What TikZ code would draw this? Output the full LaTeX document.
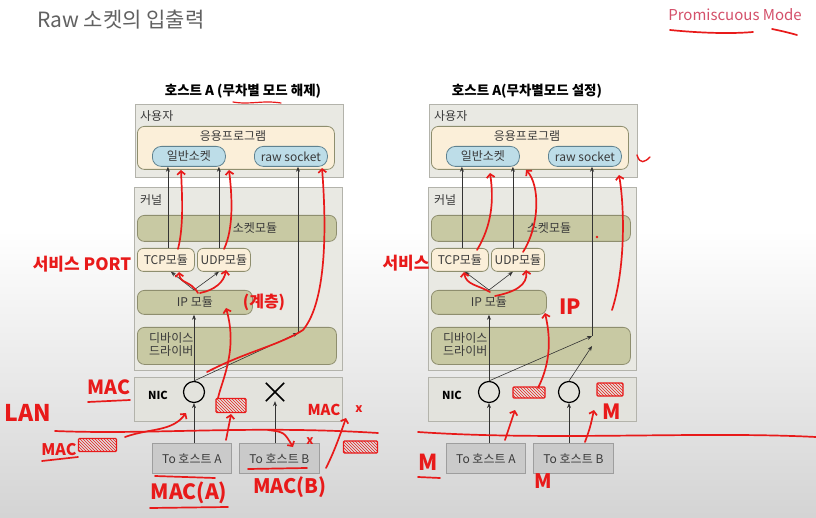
\documentclass[tikz,border=0pt]{standalone}
\usepackage{fontspec}
\setmainfont{Noto Sans CJK KR}
\usetikzlibrary{arrows.meta,patterns}
\definecolor{usergray}{HTML}{E9E9E3}
\definecolor{userborder}{HTML}{B3B3AB}
\definecolor{cream}{HTML}{FBEFD9}
\definecolor{olivedark}{HTML}{8E8E6E}
\definecolor{olivefill}{HTML}{C8C9A3}
\definecolor{pillblue}{HTML}{BDDDE8}
\definecolor{pillborder}{HTML}{5F8290}
\definecolor{nicgray}{HTML}{E3E3DD}
\definecolor{togray}{HTML}{CACACA}
\definecolor{toborder}{HTML}{9E9E9E}
\definecolor{txt}{HTML}{3A3A3A}
\definecolor{penred}{HTML}{E81A1A}
\definecolor{promred}{HTML}{D4506A}
\tikzset{
  base/.style={draw, line width=0.8pt, inner sep=0pt, anchor=north west, text=txt, font=\fontsize{12}{14}\selectfont},
  userbox/.style={base, fill=usergray, draw=userborder},
  appbox/.style={base, fill=cream, draw=olivedark, rounded corners=7pt},
  pill/.style={base, fill=pillblue, draw=pillborder, rounded corners=9pt},
  modbox/.style={base, fill=olivefill, draw=olivedark, rounded corners=7pt},
  cmod/.style={base, fill=cream, draw=olivedark, rounded corners=6pt},
  nicbox/.style={base, fill=nicgray, draw=userborder},
  tobox/.style={base, fill=togray, draw=toborder},
  lbl/.style={text=txt, inner sep=0pt, font=\fontsize{12}{14}\selectfont},
  ttl/.style={text=black, inner sep=0pt, font=\bfseries\fontsize{13.5}{15}\selectfont},
  arr/.style={-{Stealth[length=5pt,width=4pt]}, line width=0.6pt, draw=black!80},
  redpen/.style={draw=penred, line width=1.7pt, line cap=round, line join=round},
  redarr/.style={redpen, -{Straight Barb[length=3.5pt,width=8pt]}},
  hand/.style={text=penred, inner sep=0pt, font=\bfseries\fontsize{17}{17}\selectfont},
  hatch/.style={draw=penred, line width=1.4pt, pattern=north west lines, pattern color=penred, inner sep=0pt, rounded corners=1pt},
}
\newcommand\hostdiag[2]{%
\begin{scope}[xshift=#1pt]
\node[userbox, minimum width=208, minimum height=73] (user#2) at (135,104) {};
\node[lbl, anchor=west] (userlbl#2) at (140,116) {사용자};
\node[appbox, minimum width=197, minimum height=43] (app#2) at (137,126) {};
\node[lbl] (applbl#2) at (233,136.5) {응용프로그램};
\node[pill, minimum width=73, minimum height=20] (gen#2) at (152,146) {일반소켓};
\node[pill, minimum width=73, minimum height=20] (raw#2) at (254,146) {raw socket};
\node[userbox, minimum width=208, minimum height=183] (kern#2) at (134,187) {};
\node[lbl, anchor=west] (kernlbl#2) at (140,200) {커널};
\node[modbox, minimum width=199, minimum height=26] (sock#2) at (137,215) {};
\node[lbl] (socklbl#2) at (255,228) {소켓모듈};
\node[cmod, minimum width=57, minimum height=23] (tcp#2) at (137,248) {TCP모듈};
\node[cmod, minimum width=53, minimum height=23] (udp#2) at (197,248) {UDP모듈};
\node[modbox, minimum width=115, minimum height=24] (ip#2) at (137,290) {IP 모듈};
\node[modbox, minimum width=199, minimum height=37] (drv#2) at (137,327) {};
\node[lbl, anchor=west, align=left, font=\fontsize{12}{13}\selectfont] (drvlbl#2) at (149,344.5) {디바이스\\드라이버};
\node[nicbox, minimum width=208, minimum height=44] (nic#2) at (134,377) {};
\node[lbl, font=\bfseries\fontsize{11}{12}\selectfont, text=black] (niclbl#2) at (158,395) {NIC};
\node[tobox, minimum width=79, minimum height=30] (toa#2) at (152,443) {To 호스트 A};
\node[tobox, minimum width=80, minimum height=30] (tob#2) at (239,443) {To 호스트 B};
\end{scope}}
\begin{document}
\begin{tikzpicture}[x=1pt,y=-1pt]
\useasboundingbox (0,0) rectangle (816,518);
\fill[white] (0,0) rectangle (816,518);
\shade[top color=white, bottom color=black!17] (0,230) rectangle (816,518);
% headings
\node[anchor=west, text=black!62, inner sep=0pt, font=\fontsize{21}{23}\selectfont] (head) at (37,20) {Raw 소켓의 입출력};
\node[text=promred, inner sep=0pt, font=\fontsize{15}{17}\selectfont] (prom) at (735,15) {Promiscuous Mode};
\draw[redpen] (670,30) .. controls (700,33) and (730,34) .. (753,32);
\draw[redpen] (772,29) .. controls (782,31) and (790,33) .. (797,35);
% diagrams
\hostdiag{0}{L}
\hostdiag{294}{R}
\node[ttl] (titleL) at (243,91) {호스트 A (무차별 모드 해제)};
\node[ttl] (titleR) at (527,91) {호스트 A(무차별모드 설정)};
% ---- left connectors
\node[circle, draw, line width=1.2pt, minimum size=21pt, inner sep=0pt] (c1L) at (194,392) {};
\node[minimum size=18pt, inner sep=0pt] (xL) at (275,392) {};
\draw[line width=1.5pt] (xL.north west) -- (xL.south east) (xL.north east) -- (xL.south west);
\draw[arr] (c1L.south |- toaL.north) -- (c1L.south);
\draw[arr] (xL.south |- tobL.north) -- (xL.south);
\draw[arr] (c1L.north) -- (c1L.north |- ipL.south);
\coordinate (dL) at (298,333);
\draw[arr] (c1L.north) -- (dL);
\draw[arr] (dL) -- (dL |- rawL.south);
\draw[arr] (c1L.north |- ipL.north) -- ([xshift=5pt]tcpL.south);
\draw[arr] (c1L.north |- ipL.north) -- ([xshift=-5pt]udpL.south);
\draw[arr] ([xshift=2pt]tcpL.north) -- ([xshift=2pt]tcpL.north |- genL.south);
\draw[arr] ([xshift=-5pt]udpL.north) -- ([xshift=-5pt]udpL.north |- genL.south);
% ---- right connectors
\node[circle, draw, line width=1.2pt, minimum size=21pt, inner sep=0pt] (c1R) at (489,392) {};
\node[circle, draw, line width=1.2pt, minimum size=21pt, inner sep=0pt] (c2R) at (569,392) {};
\draw[arr] (c1R.south |- toaR.north) -- (c1R.south);
\draw[arr] (c2R.south |- tobR.north) -- (c2R.south);
\draw[arr] (c1R.north) -- (c1R.north |- ipR.south);
\coordinate (dR1) at (592,336);
\coordinate (dR2) at (592,346);
\draw[arr] (c1R.north) -- (dR1);
\draw[arr] (c2R.north) -- (dR2);
\draw[arr] (dR1) -- (dR1 |- rawR.south);
\draw[arr] (c1R.north |- ipR.north) -- ([xshift=5pt]tcpR.south);
\draw[arr] (c1R.north |- ipR.north) -- ([xshift=-5pt]udpR.south);
\draw[arr] ([xshift=2pt]tcpR.north) -- ([xshift=2pt]tcpR.north |- genR.south);
\draw[arr] ([xshift=-5pt]udpR.north) -- ([xshift=-5pt]udpR.north |- genR.south);
% ---- red annotations, left
\draw[redpen, line width=1.2pt] (233,102) .. controls (250,105) and (262,100) .. (281,103);
\draw[redarr] (178,249) .. controls (184,225) and (182,195) .. (181,170);
\draw[redarr] (224,249) .. controls (234,228) and (232,195) .. (229,170);
\draw[redarr] (218,398) .. controls (222,380) and (238,350) .. (226,308);
\draw[redarr] (207,372) .. controls (245,352) and (280,345) .. (303,330) .. controls (328,300) and (326,220) .. (322,168);
\draw[redarr] (198,293) .. controls (190,280) and (180,284) .. (179,272);
\draw[redarr] (200,293) .. controls (215,290) and (224,282) .. (226,270);
\node[hand] (svcL) at (82,264) {서비스 PORT};
\node[hand, font=\bfseries\fontsize{16}{16}\selectfont] (layerL) at (264,302) {(계층)};
\node[hand, font=\bfseries\fontsize{19.5}{19.5}\selectfont] (macnic) at (109,387) {MAC};
\draw[redpen] (88,402) -- (130,400);
\node[hand, font=\bfseries\fontsize{23}{23}\selectfont] (lan) at (28,413) {LAN};
\draw[redpen] (55,431) .. controls (150,435) and (250,425) .. (378,433);
\node[hand, font=\bfseries\fontsize{16}{16}\selectfont] (macl) at (59,450) {MAC};
\draw[redpen] (42,461) -- (78,457);
\node[hatch, minimum width=38, minimum height=13] (hb1) at (97.5,445) {};
\node[hatch, minimum width=30, minimum height=14] (hb2) at (231,405.5) {};
\node[hatch, minimum width=34, minimum height=12] (hb3) at (360.5,447) {};
\draw[redarr] (125,437) .. controls (150,428) and (172,432) .. (186,413);
\draw[redarr] (226,440) .. controls (229,428) .. (231,414);
\draw[redarr] (268,430) .. controls (284,432) .. (293,447);
\node[hand, font=\bfseries\fontsize{12}{12}\selectfont] (xb) at (310,441) {x};
\node[hand, font=\bfseries\fontsize{15}{15}\selectfont] (macr) at (324,410) {MAC};
\draw[redarr] (326,468) .. controls (335,450) and (340,435) .. (346,418);
\node[hand, font=\bfseries\fontsize{12}{12}\selectfont] (xr) at (359,409) {x};
\draw[redpen] (155,476) -- (215,478);
\node[hand, font=\bfseries\fontsize{21}{21}\selectfont] (maca) at (189,493) {MAC(A)};
\draw[redpen] (150,508) -- (228,507);
\draw[redpen] (248,469) -- (307,468);
\node[hand, font=\bfseries\fontsize{20}{20}\selectfont] (macb) at (290,487) {MAC(B)};
% ---- red annotations, right
\draw[redarr] (477,250) .. controls (492,225) and (494,200) .. (490,173);
\draw[redarr] (523,252) .. controls (540,225) and (540,185) .. (526,170);
\draw[redarr] (490,292) .. controls (478,285) and (466,285) .. (464,272);
\draw[redarr] (495,296) .. controls (515,292) and (528,285) .. (526,270);
\draw[redarr] (612,310) .. controls (625,270) and (625,210) .. (619,175);
\draw[redpen, line width=1.4pt] (637,155) .. controls (640,165) and (645,162) .. (650,157);
\fill[penred] (597,237) circle (1.3);
\draw[redarr] (538,388) .. controls (552,360) and (550,335) .. (545,313);
\node[hand, font=\bfseries\fontsize{21}{21}\selectfont] (ipR2) at (570,307) {IP};
\node[hand] (svcR) at (406,263) {서비스};
\draw[redpen] (418,432) .. controls (550,441) and (700,431) .. (816,437);
\node[hatch, minimum width=32, minimum height=11] (hb4) at (529,392.5) {};
\node[hatch, minimum width=26, minimum height=13] (hb5) at (610,389.5) {};
\draw[redarr] (505,440) .. controls (510,425) .. (515,410);
\draw[redarr] (585,442) .. controls (590,428) .. (594,410);
\node[hand, font=\bfseries\fontsize{21}{21}\selectfont] (m1) at (612,412) {M};
\node[hand, font=\bfseries\fontsize{22}{22}\selectfont] (m2) at (428,462) {M};
\draw[redpen] (418,477) -- (440,478);
\node[hand, font=\bfseries\fontsize{20}{20}\selectfont] (m3) at (543,481) {M};
\end{tikzpicture}
\end{document}
